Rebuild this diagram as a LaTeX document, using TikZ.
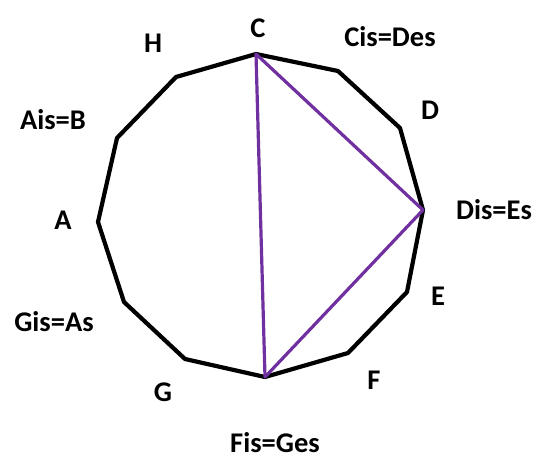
\documentclass[tikz,border=0pt]{standalone}
\usepackage{fontspec}
\setmainfont{Carlito}
\definecolor{tripurple}{HTML}{7030A0}
\tikzset{lbl/.style={font=\fontsize{28.5}{32}\selectfont\bfseries, inner sep=0pt}}
\begin{document}
\begin{tikzpicture}[x=1pt,y=-1pt]
\useasboundingbox (0,0) rectangle (539,459);
\coordinate (vC) at (256,54);
\coordinate (vCis) at (338,71);
\coordinate (vD) at (400,128);
\coordinate (vDis) at (423,210);
\coordinate (vE) at (407,292);
\coordinate (vF) at (348,353);
\coordinate (vFis) at (265,377);
\coordinate (vG) at (185,359);
\coordinate (vGis) at (124,302);
\coordinate (vA) at (98,222);
\coordinate (vAis) at (117,138);
\coordinate (vH) at (176,77);
\draw[line width=4.2pt, line join=round] (vC) -- (vCis) -- (vD) -- (vDis) -- (vE) -- (vF) -- (vFis) -- (vG) -- (vGis) -- (vA) -- (vAis) -- (vH) -- cycle;
\draw[tripurple, line width=3.2pt, line join=round] (vC) -- (vDis) -- (vFis) -- cycle;
\node[lbl] (lC) at (258,28) {C};
\node[lbl] (lCis) at (390,37) {Cis=Des};
\node[lbl] (lD) at (430,110) {D};
\node[lbl] (lDis) at (494,210) {Dis=Es};
\node[lbl] (lE) at (438,296) {E};
\node[lbl] (lF) at (374,380) {F};
\node[lbl] (lFis) at (275,443) {Fis=Ges};
\node[lbl] (lG) at (163,392) {G};
\node[lbl] (lGis) at (54,322) {Gis=As};
\node[lbl] (lA) at (63,220) {A};
\node[lbl] (lAis) at (53,120) {Ais=B};
\node[lbl] (lH) at (153,43) {H};
\end{tikzpicture}
\end{document}
